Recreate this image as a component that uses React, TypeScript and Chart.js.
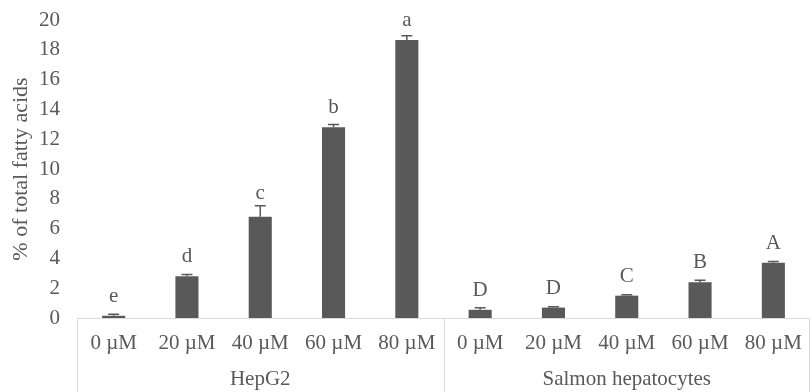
import React, { useEffect, useRef } from "react";
import { Chart, registerables } from "chart.js";

Chart.register(...registerables);

const categories = ["0 µM", "20 µM", "40 µM", "60 µM", "80 µM", "0 µM", "20 µM", "40 µM", "60 µM", "80 µM"];
const groups = ["HepG2", "Salmon hepatocytes"];
const groupSize = 5;
const values = [0.15, 2.8, 6.8, 12.8, 18.65, 0.55, 0.7, 1.5, 2.4, 3.7];
const errors = [0.1, 0.12, 0.74, 0.18, 0.3, 0.14, 0.06, 0.06, 0.14, 0.1];
const letters = ["e", "d", "c", "b", "a", "D", "D", "C", "B", "A"];
const yTicks = [0, 2, 4, 6, 8, 10, 12, 14, 16, 18, 20];
const yTitle = "% of total fatty acids";

const FONT = "'Liberation Serif', 'Times New Roman', serif";
const TEXT = "#595959";
const BAR = "#595959";
const LINE = "#d9d9d9";

const overlay = {
  id: "overlay",
  afterDatasetsDraw(chart: any) {
    const ctx = chart.ctx;
    const xs = chart.scales.x;
    const ys = chart.scales.y;
    const meta = chart.getDatasetMeta(0);
    ctx.save();
    meta.data.forEach((bar: any, i: number) => {
      const bx = bar.x;
      const top = ys.getPixelForValue(values[i]);
      const et = ys.getPixelForValue(values[i] + errors[i]);
      ctx.strokeStyle = BAR;
      ctx.lineWidth = 1.5;
      ctx.beginPath();
      ctx.moveTo(bx, top);
      ctx.lineTo(bx, et);
      ctx.moveTo(bx - 5.5, et);
      ctx.lineTo(bx + 5.5, et);
      ctx.stroke();
      ctx.fillStyle = TEXT;
      ctx.font = `21px ${FONT}`;
      ctx.textAlign = "center";
      ctx.textBaseline = "middle";
      const ly = Math.min(top - 19.5, et - 12);
      ctx.fillText(letters[i], bx, ly);
    });
    const w = (xs.right - xs.left) / categories.length;
    const bottom = chart.chartArea.bottom;
    ctx.strokeStyle = LINE;
    ctx.lineWidth = 1;
    for (let g = 0; g <= groups.length; g++) {
      let px = xs.left + g * groupSize * w;
      px = Math.min(px, chart.width - 1);
      ctx.beginPath();
      ctx.moveTo(Math.round(px) + 0.5, bottom);
      ctx.lineTo(Math.round(px) + 0.5, chart.height);
      ctx.stroke();
    }
    ctx.fillStyle = TEXT;
    ctx.font = `21px ${FONT}`;
    ctx.textAlign = "center";
    ctx.textBaseline = "middle";
    groups.forEach((g, gi) => {
      const cx = xs.left + (gi * groupSize + groupSize / 2) * w;
      ctx.fillText(g, cx, bottom + 61);
    });
    ctx.font = `22px ${FONT}`;
    ctx.translate(21, (chart.chartArea.top + bottom) / 2);
    ctx.rotate(-Math.PI / 2);
    ctx.fillText(yTitle, 0, 0);
    ctx.restore();
  },
};

export default function App() {
  const ref = useRef<HTMLCanvasElement>(null);
  useEffect(() => {
    document.body.style.margin = "0";
    const chart = new Chart(ref.current as HTMLCanvasElement, {
      type: "bar",
      data: {
        labels: categories,
        datasets: [
          {
            data: values,
            backgroundColor: BAR,
            borderWidth: 0,
            categoryPercentage: 1,
            barPercentage: 0.315,
          },
        ],
      },
      options: {
        responsive: false,
        animation: false,
        layout: { padding: { top: 20, right: 0, left: 0, bottom: 0 } },
        plugins: { legend: { display: false }, tooltip: { enabled: false } },
        scales: {
          x: {
            grid: { display: false, drawTicks: false },
            border: { display: true, color: LINE, width: 1 },
            ticks: { color: TEXT, font: { family: FONT, size: 21 }, padding: 13, maxRotation: 0, autoSkip: false },
            afterFit: (s: any) => { s.height = 74; s.paddingLeft = 0; s.paddingRight = 0; },
          },
          y: {
            min: 0,
            max: 20,
            afterBuildTicks: (s: any) => { s.ticks = yTicks.map((v) => ({ value: v })); },
            grid: { display: false, drawTicks: false },
            border: { display: false },
            ticks: { color: TEXT, font: { family: FONT, size: 21 }, padding: 17 },
            afterFit: (s: any) => { s.width = 77; s.paddingTop = 0; s.paddingBottom = 0; },
          },
        },
      },
      plugins: [overlay],
    });
    return () => chart.destroy();
  }, []);
  return <canvas ref={ref} width={810} height={392} style={{ display: "block" }} />;
}
